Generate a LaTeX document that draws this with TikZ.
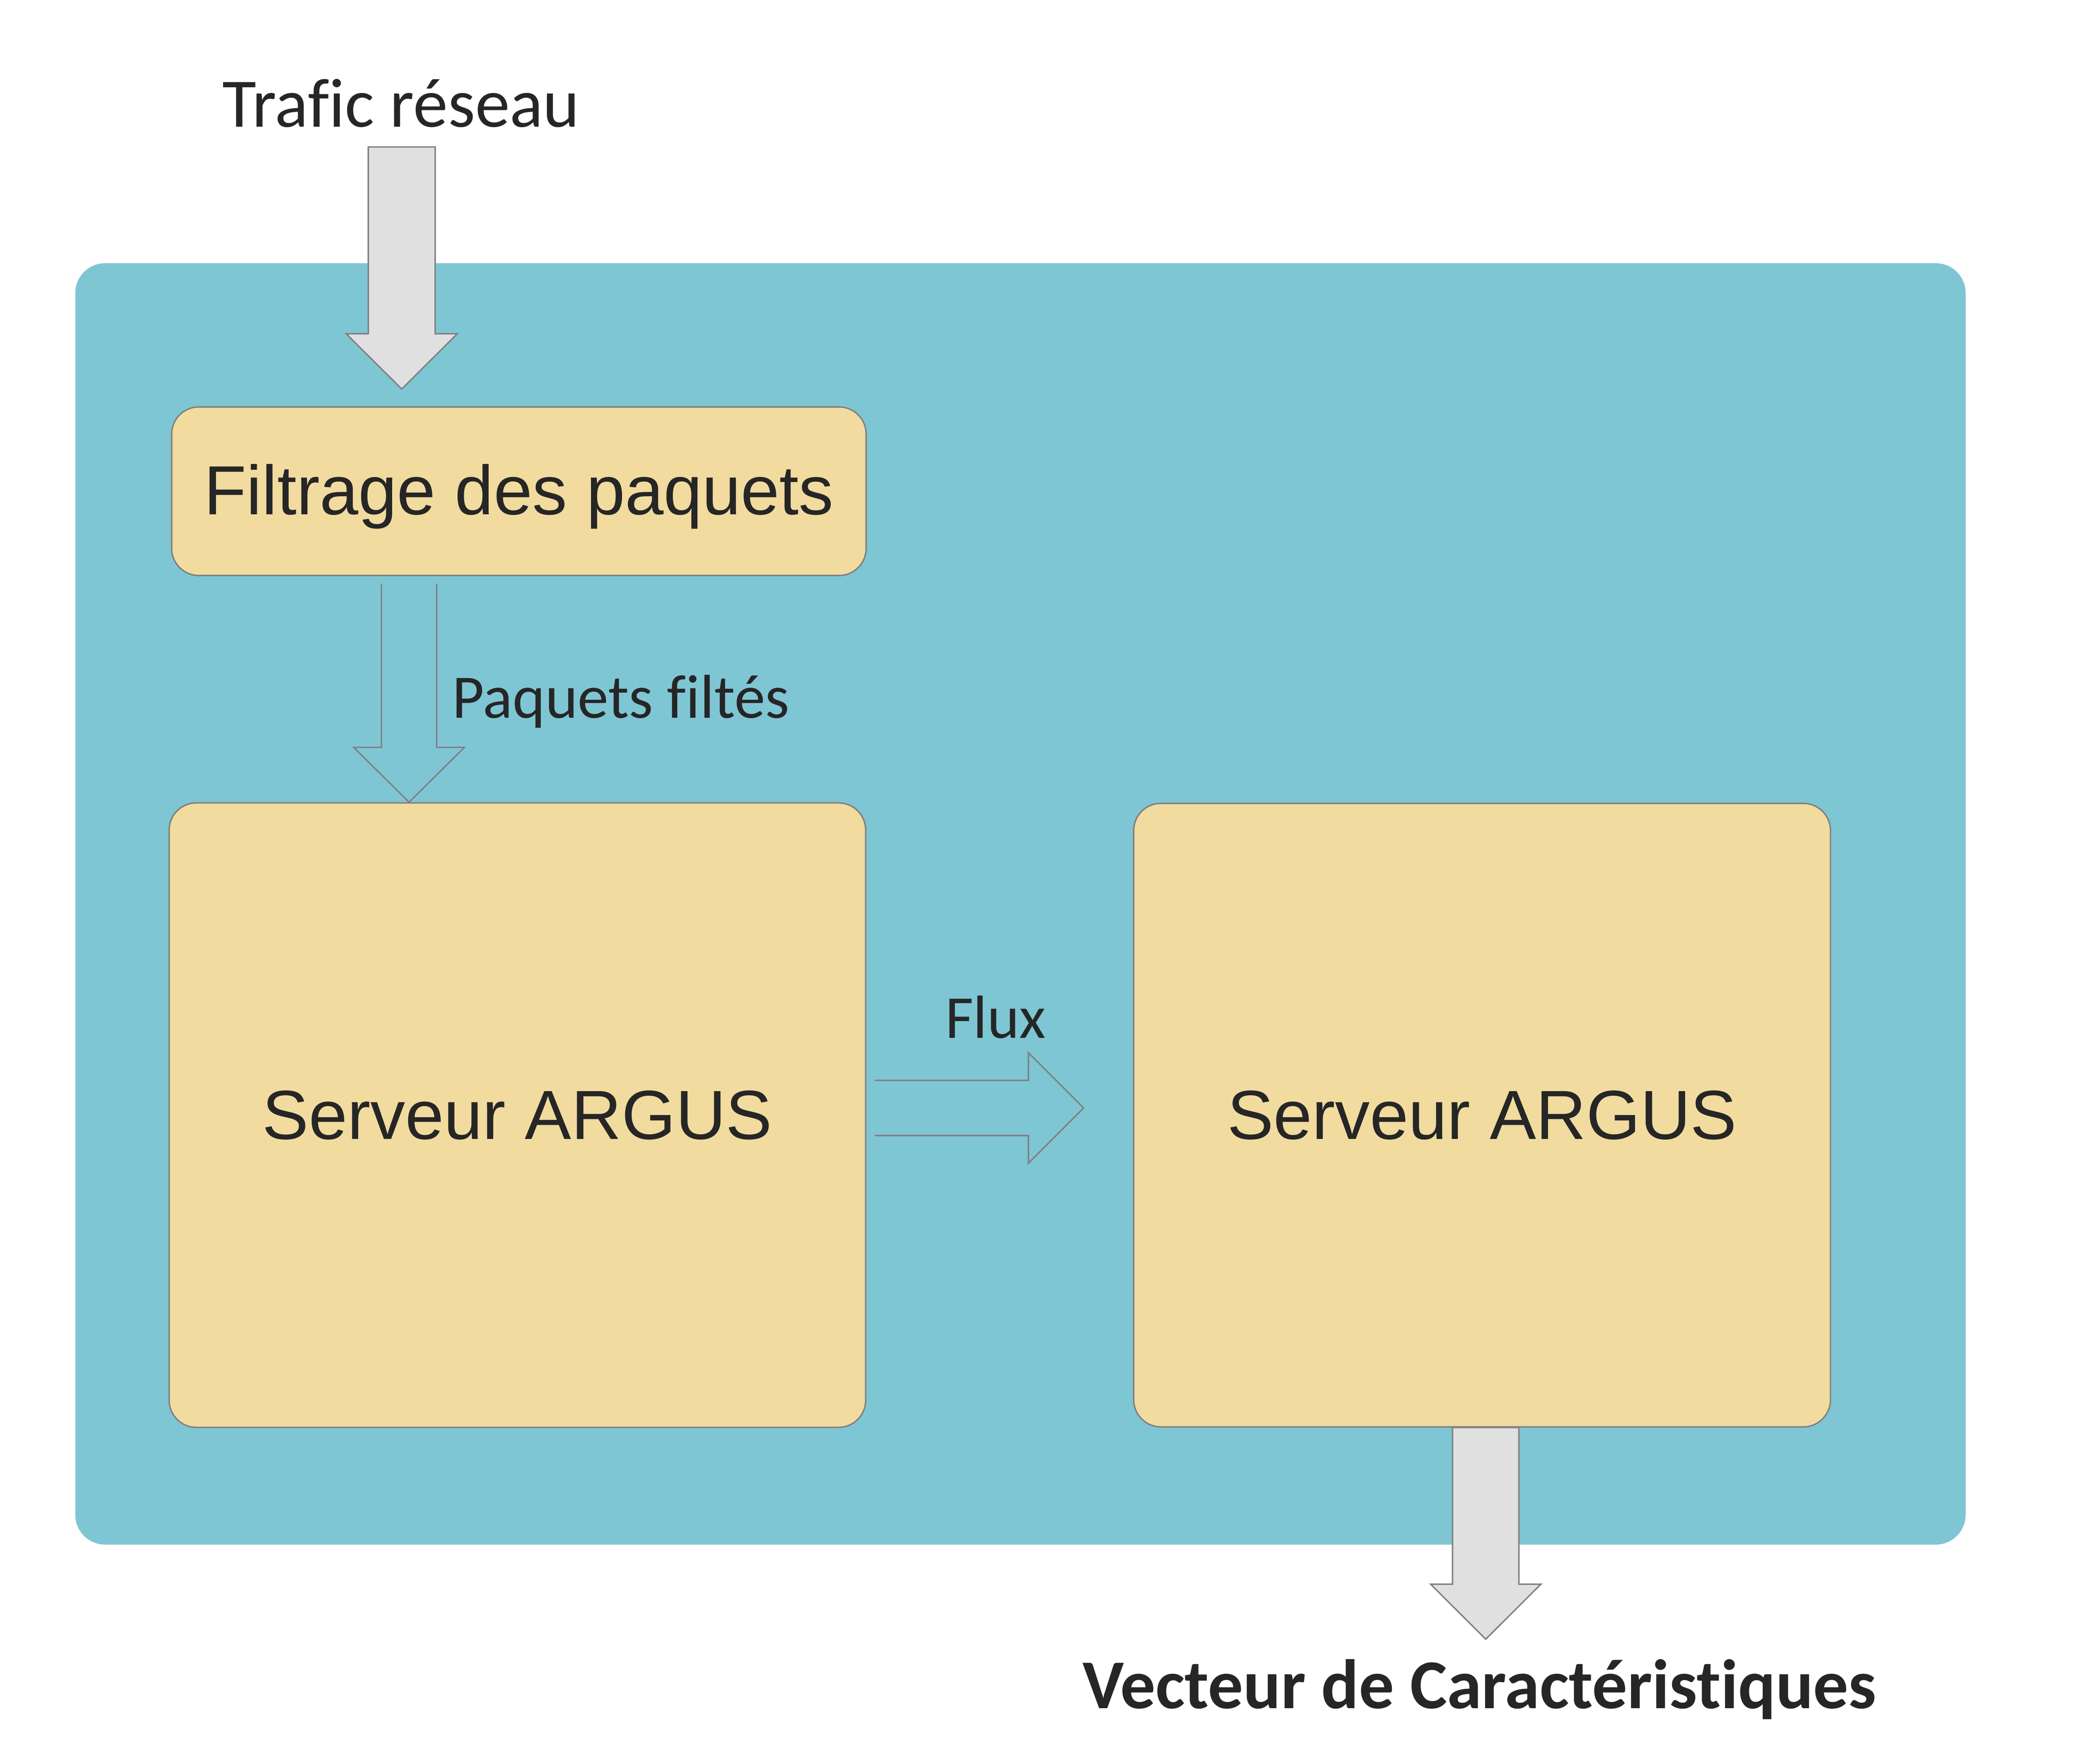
\documentclass[tikz,border=0pt]{standalone}
\usepackage{fontspec}
\setmainfont{Carlito}[Ligatures=NoCommon]
\newfontfamily\arialfont{Liberation Sans}
\usetikzlibrary{calc}
\definecolor{bleu}{HTML}{7FC6D4}
\definecolor{beige}{HTML}{F1DB9F}
\definecolor{grisclair}{HTML}{E0E0E0}
\definecolor{gristrait}{HTML}{808080}
\definecolor{texte}{HTML}{262626}
\begin{document}
\begin{tikzpicture}
\useasboundingbox (0,0) rectangle (15.482,13.02);
\tikzstyle{boite}=[rectangle,rounded corners=0.2cm,draw=gristrait,line width=0.3pt,fill=beige,inner sep=0pt,text=texte,font=\arialfont\fontsize{14.6}{17}\selectfont]
\tikzstyle{etiq}=[inner sep=0pt,text=texte]
\tikzstyle{plein}=[draw=gristrait,line width=0.3pt,fill=grisclair]
\tikzstyle{creux}=[draw=gristrait,line width=0.3pt]
\node[fill=bleu,rounded corners=0.22cm,minimum width=13.956cm,minimum height=9.458cm,inner sep=0pt](cadre) at (7.534,6.348) {};
\node[boite,minimum width=5.127cm,minimum height=1.244cm,text height=0.375cm,text depth=0.03cm](filtre) at (3.831,9.394) {Filtrage des paquets};
\node[boite,minimum width=5.142cm,minimum height=4.609cm](argus1) at (3.82,4.789) {Serveur ARGUS};
\node[boite,minimum width=5.144cm,minimum height=4.602cm](argus2) at (10.942,4.789) {Serveur ARGUS};
\node[etiq,anchor=base,font=\fontsize{14.6}{17}\selectfont](trafic) at (2.961,12.084) {Trafic réseau};
\node[etiq,anchor=base west,font=\fontsize{13}{15}\selectfont](paquets) at (3.333,7.719) {Paquets filtés};
\node[etiq,anchor=base,font=\fontsize{12.8}{15}\selectfont](flux) at (7.35,5.358) {Flux};
\node[etiq,anchor=base,font=\bfseries\fontsize{14.7}{17}\selectfont](vecteur) at (10.923,0.41) {Vecteur de Caractéristiques};
% pointes des fleches
\coordinate (p1) at ($(filtre.north -| trafic)+(0.005,0.127)$);
\coordinate (p2) at ($(argus1.north)+(-0.8,0)$);
\coordinate (p3) at ($(argus2.west)+(-0.365,0.053)$);
\coordinate (p4) at ($(argus2.south)+(0.027,-1.562)$);
\draw[plein] (p1) -- ++(-0.41,0.408) -- ++(0.163,0) -- ++(0,1.379) -- ++(0.494,0) -- ++(0,-1.379) -- ++(0.163,0) -- cycle;
\draw[creux] (p2) ++(-0.204,1.611) -- ++(0,-1.206) -- ++(-0.205,0) -- (p2) -- ++(0.409,0.405) -- ++(-0.205,0) -- ++(0,1.206);
\draw[creux] (p3) ++(-1.543,0.2035) -- ++(1.136,0) -- ++(0,0.204) -- (p3) -- ++(-0.407,-0.4075) -- ++(0,0.204) -- ++(-1.136,0);
\draw[plein] (p4) -- ++(-0.407,0.406) -- ++(0.162,0) -- ++(0,1.156) -- ++(0.49,0) -- ++(0,-1.156) -- ++(0.162,0) -- cycle;
\end{tikzpicture}
\end{document}
